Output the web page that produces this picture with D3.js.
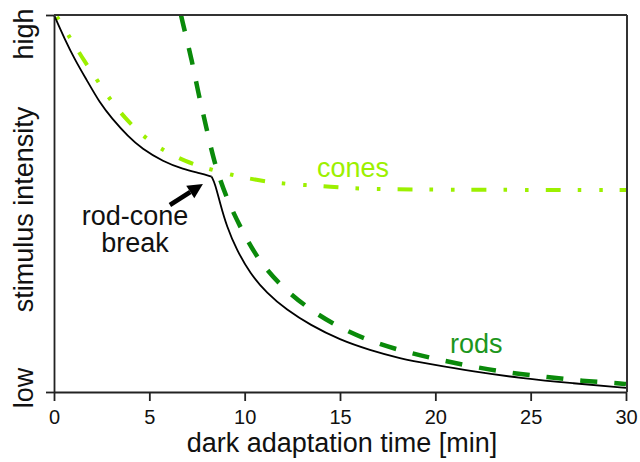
<!DOCTYPE html>
<html><head><meta charset="utf-8">
<script src="https://cdn.jsdelivr.net/npm/d3@7"></script>
<style>
html,body{margin:0;padding:0;background:#fff;}
svg{display:block;font-family:"Liberation Sans",Arial,Helvetica,sans-serif;}
</style></head>
<body>
<svg id="c" width="640" height="462"></svg>
<script>
// ---- data (time in min, relative stimulus intensity 0=low .. 100=high) ----
const xTicks = [0, 5, 10, 15, 20, 25, 30];
const yTickValues = [0, 100];
const yTickLabels = ["low", "high"];

const thresholdEarlyT = [0, 0.58, 1.10, 1.71, 2.41, 3.03, 3.90, 4.60, 5.73, 6.78, 7.66, 8.27];
const thresholdEarlyV = [100, 93.4, 88.1, 82.8, 76.6, 72.6, 67.7, 64.6, 61.1, 59.1, 58.0, 57.1];
const thresholdLateT = [8.27, 8.44, 8.71, 9.06, 9.58, 10.28, 11.16, 12.2, 13.43, 15.0, 16.57, 18.14, 19.72, 22.0, 24.44, 27.2, 30];
const thresholdLateV = [57.1, 55.4, 50.1, 43.9, 37.7, 31.5, 26.2, 21.8, 17.8, 13.8, 11.1, 8.9, 7.4, 5.4, 3.7, 2.3, 1.1];

const conesT = [0.1, 0.75, 1.45, 2.24, 2.85, 3.72, 4.72, 5.56, 6.87, 8.15, 9.3, 10.63, 11.9, 13.16, 14.48, 15.88, 18.5, 23.4, 30];
const conesV = [100, 94.7, 88.9, 82.9, 78.2, 72.6, 67.7, 64.6, 61.1, 59.1, 57.6, 56.2, 55.3, 54.9, 54.5, 53.9, 53.7, 53.6, 53.6];

const rodsT = [6.66, 6.78, 7.22, 7.57, 8.01, 8.39, 9.01, 9.8, 10.71, 11.94, 13.37, 14.95, 16.66, 18.46, 20.24, 22.08, 24.02, 25.86, 27.69, 29.53, 30];
const rodsV = [100, 97.3, 88.3, 79.2, 69.8, 61.1, 51.8, 43.4, 35.0, 27.9, 22.0, 17.1, 13.3, 10.6, 8.5, 6.6, 5.0, 4.0, 2.9, 2.4, 2.1];

const labels = ["cones", "rods", "rod-cone", "break"];
const xTitle = "dark adaptation time [min]";
const yTitle = "stimulus intensity";

// ---- layout ----
const svg = d3.select("#c");
const x = d3.scaleLinear().domain([0, 30]).range([54, 626]);
const y = d3.scaleLinear().domain([0, 100]).range([392, 15]);

const zip = (ts, vs) => ts.map((t, i) => [t, vs[i]]);
const line = d3.line().x(d => x(d[0])).y(d => y(d[1])).curve(d3.curveBasis);

const plot = svg.append("g");
svg.append("clipPath").attr("id", "pc").append("rect")
  .attr("x", x(0)).attr("y", y(100)).attr("width", x(30) - x(0)).attr("height", y(0) - y(100));

// cones
plot.append("path").datum(zip(conesT, conesV))
  .attr("d", line).attr("fill", "none").attr("stroke", "#9cf000")
  .attr("stroke-width", 4).attr("stroke-dasharray", "15,17,3.5,18,3.5,17")
  .attr("stroke-dashoffset", 30).attr("clip-path", "url(#pc)");

// rods
plot.append("path").datum(zip(rodsT, rodsV))
  .attr("d", line).attr("fill", "none").attr("stroke", "#0a8a0a")
  .attr("stroke-width", 4.5).attr("stroke-dasharray", "17,17")
  .attr("clip-path", "url(#pc)");

// threshold (black)
plot.append("path").datum(zip(thresholdEarlyT, thresholdEarlyV))
  .attr("d", line).attr("fill", "none").attr("stroke", "#000").attr("stroke-width", 1.8);
plot.append("path").datum(zip(thresholdLateT, thresholdLateV))
  .attr("d", line).attr("fill", "none").attr("stroke", "#000").attr("stroke-width", 1.8);

// axes
const xAxis = d3.axisBottom(x).tickValues(xTicks).tickSize(9).tickSizeOuter(0).tickPadding(9);
const gx = svg.append("g").attr("transform", `translate(0,${y(0)})`).call(xAxis);
gx.select(".domain").attr("stroke", "#222").attr("stroke-width", 1.8);
gx.selectAll(".tick line").attr("stroke", "#222").attr("stroke-width", 1.8);
gx.selectAll(".tick text").attr("font-size", 20).attr("fill", "#111")
  .attr("font-family", "'Liberation Sans',Arial,sans-serif");

const yAxis = d3.axisLeft(y).tickValues(yTickValues).tickSize(8).tickSizeOuter(0).tickFormat("");
const gy = svg.append("g").attr("transform", `translate(${x(0)},0)`).call(yAxis);
gy.select(".domain").attr("stroke", "#222").attr("stroke-width", 1.8);
gy.selectAll(".tick line").attr("stroke", "#222").attr("stroke-width", 1.8);

// frame top & right
svg.append("line").attr("x1", x(0)).attr("x2", x(30) + 1).attr("y1", y(100)).attr("y2", y(100))
  .attr("stroke", "#333").attr("stroke-width", 2);
svg.append("line").attr("x1", x(30) + 1).attr("x2", x(30) + 1).attr("y1", y(100)).attr("y2", y(0))
  .attr("stroke", "#333").attr("stroke-width", 2);

// y labels (rotated)
const yl = [
  { t: yTickLabels[1], c: y(100) + 19 },
  { t: yTitle, c: (y(0) + y(100)) / 2 + 6 },
  { t: yTickLabels[0], c: y(0) - 4 }
];
svg.selectAll("text.yl").data(yl).enter().append("text").attr("class", "yl")
  .attr("transform", d => `translate(33,${d.c}) rotate(-90)`)
  .attr("text-anchor", "middle").attr("font-size", 27).attr("fill", "#111")
  .text(d => d.t);

// x title
svg.append("text").attr("x", (x(0) + x(30)) / 2 + 2).attr("y", 452)
  .attr("text-anchor", "middle").attr("font-size", 27).attr("fill", "#111").text(xTitle);

// series labels
svg.append("text").attr("x", x(13.79)).attr("y", y(57.0)).attr("font-size", 27)
  .attr("fill", "#9cf000").text(labels[0]);
svg.append("text").attr("x", x(20.77)).attr("y", y(10.3)).attr("font-size", 27)
  .attr("fill", "#1d961d").text(labels[1]);

// rod-cone break annotation
svg.append("text").attr("x", x(4.25)).attr("y", y(44.3)).attr("text-anchor", "middle")
  .attr("font-size", 27).attr("fill", "#111").text(labels[2]);
svg.append("text").attr("x", x(4.25)).attr("y", y(37.1)).attr("text-anchor", "middle")
  .attr("font-size", 27).attr("fill", "#111").text(labels[3]);

// arrow
const tail = [x(6.08), y(49.6)], tip = [x(7.81), y(55.2)];
const ang = Math.atan2(tip[1] - tail[1], tip[0] - tail[0]);
const hl = 15, hw = 7.5;
const base = [tip[0] - hl * Math.cos(ang), tip[1] - hl * Math.sin(ang)];
svg.append("line").attr("x1", tail[0]).attr("y1", tail[1]).attr("x2", base[0]).attr("y2", base[1])
  .attr("stroke", "#000").attr("stroke-width", 4.5);
svg.append("path").attr("d", `M${tip[0]},${tip[1]} L${base[0] - hw * Math.sin(ang)},${base[1] + hw * Math.cos(ang)} L${base[0] + hw * Math.sin(ang)},${base[1] - hw * Math.cos(ang)} Z`)
  .attr("fill", "#000");
</script>
</body></html>
